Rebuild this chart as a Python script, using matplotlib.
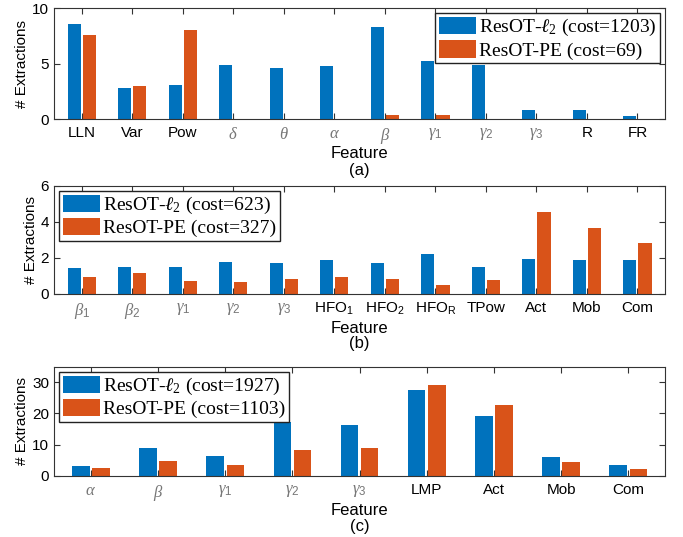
import matplotlib
matplotlib.use("Agg")
import matplotlib.pyplot as plt
import numpy as np

plt.rcParams['font.family'] = ['Liberation Sans', 'DejaVu Sans']
plt.rcParams['mathtext.fontset'] = 'custom'
plt.rcParams['mathtext.rm'] = 'Liberation Serif'
plt.rcParams['mathtext.it'] = 'Liberation Serif:italic'
plt.rcParams['mathtext.sf'] = 'Liberation Sans'

BLUE = '#0072BD'
ORANGE = '#D95319'

# panel (a)
feat_a = ['LLN', 'Var', 'Pow', r'$\delta$', r'$\theta$', r'$\alpha$', r'$\beta$',
          r'$\gamma_{\mathsf{1}}$', r'$\gamma_{\mathsf{2}}$', r'$\gamma_{\mathsf{3}}$', 'R', 'FR']
l2_a = [8.6, 2.8, 3.1, 4.85, 4.6, 4.8, 8.3, 5.2, 4.85, 0.85, 0.8, 0.3]
pe_a = [7.6, 3.0, 8.0, 0.05, 0.05, 0.02, 0.4, 0.4, 0.0, 0.0, 0.0, 0.05]

# panel (b)
feat_b = [r'$\beta_{\mathsf{1}}$', r'$\beta_{\mathsf{2}}$', r'$\gamma_{\mathsf{1}}$',
          r'$\gamma_{\mathsf{2}}$', r'$\gamma_{\mathsf{3}}$',
          r'HFO$_{\mathsf{1}}$', r'HFO$_{\mathsf{2}}$', r'HFO$_{\mathsf{R}}$', 'TPow', 'Act', 'Mob', 'Com']
l2_b = [1.45, 1.5, 1.48, 1.78, 1.7, 1.85, 1.72, 2.2, 1.48, 1.92, 1.85, 1.9]
pe_b = [0.92, 1.15, 0.72, 0.65, 0.8, 0.95, 0.82, 0.5, 0.78, 4.55, 3.65, 2.8]

# panel (c)
feat_c = [r'$\alpha$', r'$\beta$', r'$\gamma_{\mathsf{1}}$', r'$\gamma_{\mathsf{2}}$',
          r'$\gamma_{\mathsf{3}}$', 'LMP', 'Act', 'Mob', 'Com']
l2_c = [3.0, 8.8, 6.5, 17.3, 16.3, 27.6, 19.3, 6.0, 3.4]
pe_c = [2.6, 4.6, 3.6, 8.3, 9.0, 29.3, 22.6, 4.5, 2.2]

panels = [
    (feat_a, l2_a, pe_a, 1203, 69, (0, 10), [0, 5, 10], 'upper right', '(a)',
     [0.079, 0.778, 0.895, 0.207]),
    (feat_b, l2_b, pe_b, 623, 327, (0, 6), [0, 2, 4, 6], 'upper left', '(b)',
     [0.079, 0.453, 0.895, 0.201]),
    (feat_c, l2_c, pe_c, 1927, 1103, (0, 35), [0, 10, 20, 30], 'upper left', '(c)',
     [0.079, 0.114, 0.895, 0.203]),
]

fig = plt.figure(figsize=(6.83, 5.37), dpi=100)

for feats, l2, pe, c1, c2, ylim, yt, loc, tag, pos in panels:
    ax = fig.add_axes(pos)
    x = np.arange(1, len(feats) + 1)
    w = 0.26
    ax.bar(x - 0.15, l2, w, color=BLUE, label=r'ResOT-$\ell_2$ (cost=%d)' % c1)
    ax.bar(x + 0.15, pe, w, color=ORANGE, label='ResOT-PE (cost=%d)' % c2)
    ax.set_xlim(0.45, len(feats) + 0.55)
    ax.set_ylim(*ylim)
    ax.set_yticks(yt)
    ax.set_xticks(x)
    ax.set_xticklabels(feats, fontsize=11)
    for lab in ax.get_xticklabels():
        if lab.get_text().startswith('$'):
            lab.set_color('#777777')
            lab.set_fontsize(12)
    ax.tick_params(axis='x', pad=5)
    ax.tick_params(axis='y', labelsize=11)
    ax.tick_params(direction='in', top=True, right=True, length=4, color='#333333')
    for s in ax.spines.values():
        s.set_color('#333333')
        s.set_linewidth(0.8)
    ax.set_ylabel('# Extractions', fontsize=11, labelpad=2)
    ax.set_xlabel('Feature', fontsize=12, labelpad=0)
    leg = ax.legend(loc=loc, prop={'family': 'Liberation Serif', 'size': 14},
                    fancybox=False, edgecolor='#222222', framealpha=1,
                    handlelength=1.9, handleheight=1.0, handletextpad=0.15,
                    borderpad=0.2, labelspacing=0.1, borderaxespad=0.25)
    leg.get_frame().set_linewidth(1.0)
    ax.text(0.5, -0.395, tag, transform=ax.transAxes, ha='center', va='top',
            fontsize=12)

fig.savefig('out.png', dpi=100)
